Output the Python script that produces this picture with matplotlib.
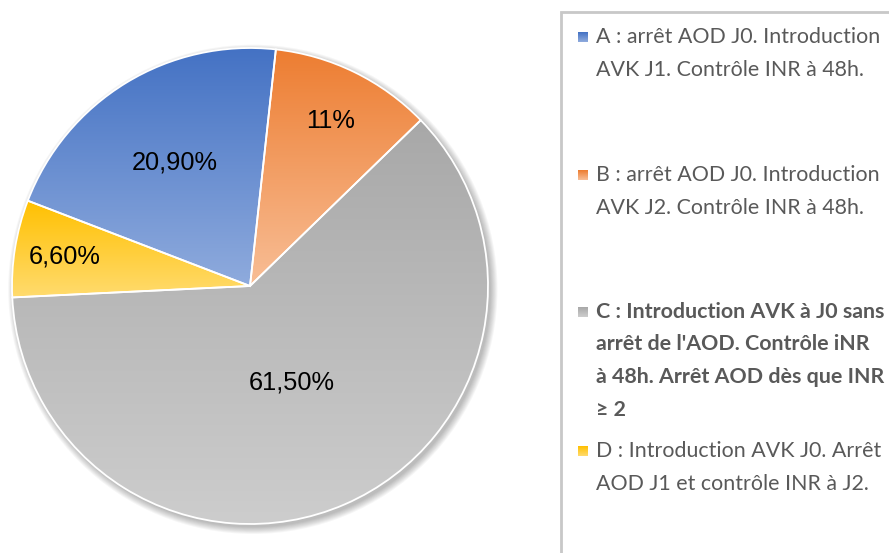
import numpy as np
import matplotlib
matplotlib.use("Agg")
import matplotlib.pyplot as plt
from matplotlib.colors import LinearSegmentedColormap
from matplotlib.patches import Rectangle, Circle

# ---- data ----
categories = ["A", "B", "C", "D"]
values = [20.9, 11.0, 61.5, 6.6]
pct_labels = ["20,90%", "11%", "61,50%", "6,60%"]
legend_labels = [
    "A : arrêt AOD J0. Introduction\nAVK J1. Contrôle INR à 48h.",
    "B : arrêt AOD J0. Introduction\nAVK J2. Contrôle INR à 48h.",
    "C : Introduction AVK à J0 sans\narrêt de l'AOD. Contrôle iNR\nà 48h. Arrêt AOD dès que INR\n≥ 2",
    "D : Introduction AVK J0. Arrêt\nAOD J1 et contrôle INR à J2.",
]
legend_bold = [False, False, True, False]

# ---- style ----
grad_top = ["#4472C4", "#ED7D31", "#A8A8A8", "#FFC000"]
grad_bot = ["#8FABDD", "#F8BE96", "#CDCDCD", "#FFDB6E"]
label_dist = [0.61, 0.77, 0.44, 0.79]

W, H = 889, 553
fig = plt.figure(figsize=(W / 100, H / 100), dpi=100)
fig.patch.set_facecolor("white")

cx, cy, R = 250, 286, 238
M = 1.1
ax = fig.add_axes([(cx - R * M) / W, (H - cy - R * M) / H, 2 * R * M / W, 2 * R * M / H])
ax.set_aspect("equal")
ax.axis("off")

# soft shadow
for k in range(8):
    sh = Circle((0.012, -0.014), 1.0 + 0.004 * k, facecolor="black",
                edgecolor="none", alpha=0.035, zorder=0)
    ax.add_patch(sh)

wedges, _ = ax.pie(values, startangle=159, counterclock=False, radius=1.0,
                   wedgeprops=dict(edgecolor="white", linewidth=1.3))

for i, w in enumerate(wedges):
    w.set_zorder(3)
    th = np.radians(np.linspace(w.theta1, w.theta2, 200))
    xs = np.concatenate([[0], np.cos(th)])
    ys = np.concatenate([[0], np.sin(th)])
    x0, x1, y0, y1 = xs.min(), xs.max(), ys.min(), ys.max()
    cmap = LinearSegmentedColormap.from_list("g%d" % i, [grad_bot[i], grad_top[i]])
    grad = np.linspace(0, 1, 256).reshape(-1, 1)
    im = ax.imshow(grad, extent=[x0, x1, y0, y1], origin="lower", cmap=cmap,
                   aspect="auto", zorder=2, interpolation="bilinear")
    im.set_clip_path(w)
    w.set_facecolor("none")

ax.set_xlim(-M, M)
ax.set_ylim(-M, M)

for i, w in enumerate(wedges):
    mid = np.radians((w.theta1 + w.theta2) / 2)
    d = label_dist[i]
    ax.text(d * np.cos(mid), d * np.sin(mid), pct_labels[i], ha="center",
            va="center", fontsize=18.3, family="Liberation Sans", color="black",
            zorder=5)

# ---- legend ----
lx0, ly0 = 561, 12
fig.patches.append(Rectangle((lx0 / W, -0.1), 2, (H - ly0) / H + 0.1,
                             transform=fig.transFigure, facecolor="none",
                             edgecolor="#C8C8C8", linewidth=2))
entry_y = [37, 175, 312, 451]
line_h = 32.5
for i, lab in enumerate(legend_labels):
    y = entry_y[i]
    cmap = LinearSegmentedColormap.from_list("l%d" % i, [grad_bot[i], grad_top[i]])
    lax = fig.add_axes([578 / W, (H - y - 5) / H, 10 / W, 10 / H])
    lax.imshow(np.linspace(0, 1, 32).reshape(-1, 1), origin="lower", cmap=cmap,
               aspect="auto", extent=[0, 1, 0, 1])
    lax.axis("off")
    for j, line in enumerate(lab.split("\n")):
        fig.text(596 / W, (H - y - j * line_h) / H, line, ha="left", va="center",
                 fontsize=15.4, family=["Lato", "DejaVu Sans"], color="#595959",
                 fontweight="bold" if legend_bold[i] else "normal")

fig.savefig("out.png", dpi=100)
